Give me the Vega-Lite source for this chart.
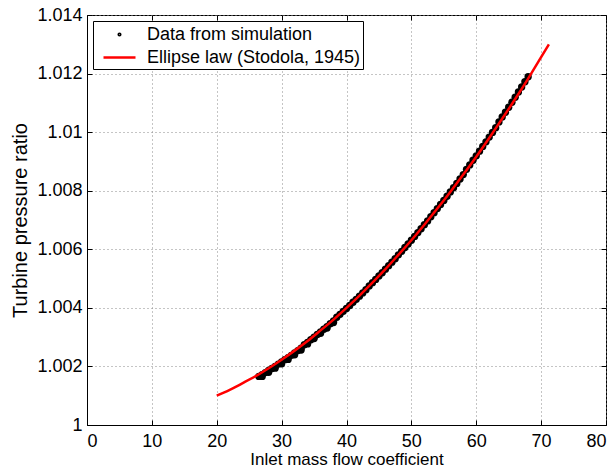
{
  "$schema": "https://vega.github.io/schema/vega-lite/v6.json",
  "width": 519,
  "height": 410,
  "autosize": {"type": "none"},
  "padding": {"left": 87, "top": 15, "right": 10, "bottom": 43},
  "background": "white",
  "config": {
    "view": {"stroke": "black", "strokeWidth": 1},
    "font": "Liberation Sans",
    "axis": {
      "labelFont": "Liberation Sans",
      "titleFont": "Liberation Sans",
      "labelColor": "black",
      "titleColor": "black",
      "titleFontWeight": "normal",
      "domainColor": "black",
      "tickColor": "black",
      "gridColor": "#8a8a8a",
      "gridDash": [1, 3],
      "gridOpacity": 1
    }
  },
  "datasets": {
    "sim": [
      {"x": 26.5, "y": 1.00166}, {"x": 27, "y": 1.00172}, {"x": 27.5, "y": 1.00179}, {"x": 28, "y": 1.00186},
      {"x": 28.5, "y": 1.00193}, {"x": 29, "y": 1.002}, {"x": 29.5, "y": 1.00208}, {"x": 30, "y": 1.00215},
      {"x": 30.5, "y": 1.00223}, {"x": 31, "y": 1.0023}, {"x": 31.5, "y": 1.00238}, {"x": 32, "y": 1.00246},
      {"x": 32.5, "y": 1.00254}, {"x": 33, "y": 1.00262}, {"x": 33.5, "y": 1.00274}, {"x": 34, "y": 1.00282},
      {"x": 34.5, "y": 1.00291}, {"x": 35, "y": 1.003}, {"x": 35.5, "y": 1.00309}, {"x": 36, "y": 1.00318},
      {"x": 36.5, "y": 1.00327}, {"x": 37, "y": 1.00336}, {"x": 37.5, "y": 1.00346}, {"x": 38, "y": 1.00355},
      {"x": 38.5, "y": 1.00368}, {"x": 39, "y": 1.00378}, {"x": 39.5, "y": 1.00388}, {"x": 40, "y": 1.00398},
      {"x": 40.5, "y": 1.00408}, {"x": 41, "y": 1.00419}, {"x": 41.5, "y": 1.00429}, {"x": 42, "y": 1.0044},
      {"x": 42.5, "y": 1.00451}, {"x": 43, "y": 1.00462}, {"x": 43.5, "y": 1.00475}, {"x": 44, "y": 1.00486},
      {"x": 44.5, "y": 1.00497}, {"x": 45, "y": 1.00509}, {"x": 45.5, "y": 1.0052}, {"x": 46, "y": 1.00532},
      {"x": 46.5, "y": 1.00544}, {"x": 47, "y": 1.00556}, {"x": 47.5, "y": 1.00568}, {"x": 48, "y": 1.00581},
      {"x": 48.5, "y": 1.00593}, {"x": 49, "y": 1.00606}, {"x": 49.5, "y": 1.00618}, {"x": 50, "y": 1.00631},
      {"x": 50.5, "y": 1.00644}, {"x": 51, "y": 1.00657}, {"x": 51.5, "y": 1.0067}, {"x": 52, "y": 1.00684},
      {"x": 52.5, "y": 1.00697}, {"x": 53, "y": 1.00711}, {"x": 53.5, "y": 1.00725}, {"x": 54, "y": 1.00739},
      {"x": 54.5, "y": 1.00753}, {"x": 55, "y": 1.00767}, {"x": 55.5, "y": 1.00781}, {"x": 56, "y": 1.00796},
      {"x": 56.5, "y": 1.0081}, {"x": 57, "y": 1.00825}, {"x": 57.5, "y": 1.0084}, {"x": 58, "y": 1.00855},
      {"x": 58.5, "y": 1.00873}, {"x": 59, "y": 1.00888}, {"x": 59.5, "y": 1.00904}, {"x": 60, "y": 1.00919},
      {"x": 60.5, "y": 1.00935}, {"x": 61, "y": 1.00951}, {"x": 61.5, "y": 1.00967}, {"x": 62, "y": 1.00983},
      {"x": 62.5, "y": 1.00999}, {"x": 63, "y": 1.01015}, {"x": 63.5, "y": 1.01035}, {"x": 64, "y": 1.01052},
      {"x": 64.5, "y": 1.01068}, {"x": 65, "y": 1.01085}, {"x": 65.5, "y": 1.01102}, {"x": 66, "y": 1.01119},
      {"x": 66.5, "y": 1.01137}, {"x": 67, "y": 1.01154}, {"x": 67.5, "y": 1.01172}, {"x": 68, "y": 1.01189},
      {"x": 27, "y": 1.00166}, {"x": 28, "y": 1.0018}, {"x": 29, "y": 1.00194}, {"x": 30, "y": 1.00209},
      {"x": 31, "y": 1.00224}, {"x": 32, "y": 1.0024}, {"x": 33, "y": 1.00256}, {"x": 34, "y": 1.00277},
      {"x": 35, "y": 1.00295}, {"x": 36, "y": 1.00313}, {"x": 37, "y": 1.00331}, {"x": 38, "y": 1.0035}
    ],
    "law": [
      {"x": 20, "y": 1.001}, {"x": 22, "y": 1.0012}, {"x": 24, "y": 1.00143}, {"x": 26, "y": 1.00167},
      {"x": 28, "y": 1.00194}, {"x": 30, "y": 1.00223}, {"x": 32, "y": 1.00254}, {"x": 34, "y": 1.00287},
      {"x": 36, "y": 1.00323}, {"x": 38, "y": 1.0036}, {"x": 40, "y": 1.004}, {"x": 42, "y": 1.00442},
      {"x": 44, "y": 1.00486}, {"x": 46, "y": 1.00532}, {"x": 48, "y": 1.00581}, {"x": 50, "y": 1.00631},
      {"x": 52, "y": 1.00684}, {"x": 54, "y": 1.00739}, {"x": 56, "y": 1.00796}, {"x": 58, "y": 1.00855},
      {"x": 60, "y": 1.00916}, {"x": 62, "y": 1.0098}, {"x": 64, "y": 1.01046}, {"x": 66, "y": 1.01113},
      {"x": 68, "y": 1.01183}, {"x": 70, "y": 1.01256}, {"x": 71.2, "y": 1.013}
    ]
  },
  "layer": [
    {
      "data": {"name": "sim"},
      "mark": {"type": "circle", "size": 54, "opacity": 1, "color": "black"},
      "encoding": {
        "x": {
          "field": "x", "type": "quantitative",
          "scale": {"domain": [0, 80], "nice": false, "zero": false},
          "axis": {
            "orient": "bottom", "values": [0, 10, 20, 30, 40, 50, 60, 70, 80],
            "grid": true, "tickSize": -5, "labelPadding": 12, "labelFontSize": 18,
            "title": "Inlet mass flow coefficient", "titleFontSize": 17, "titlePadding": 1
          }
        },
        "y": {
          "field": "y", "type": "quantitative",
          "scale": {"domain": [1, 1.014], "nice": false, "zero": false},
          "axis": {
            "orient": "left",
            "values": [1, 1.002, 1.004, 1.006, 1.008, 1.01, 1.012, 1.014],
            "format": "~g", "grid": true, "tickSize": -5, "labelPadding": 10, "labelFontSize": 18,
            "title": "Turbine pressure ratio", "titleFontSize": 20, "titlePadding": 6
          }
        }
      }
    },
    {
      "data": {"name": "law"},
      "mark": {"type": "line", "strokeWidth": 2.5, "interpolate": "monotone", "color": "#ff0000"},
      "encoding": {
        "x": {"field": "x", "type": "quantitative", "axis": null},
        "y": {"field": "y", "type": "quantitative", "axis": null}
      }
    },
    {
      "data": {"name": "law"},
      "mark": {"type": "point", "filled": false, "strokeWidth": 2.5, "opacity": 0},
      "encoding": {
        "x": {
          "field": "x", "type": "quantitative",
          "axis": {"orient": "top", "values": [0, 10, 20, 30, 40, 50, 60, 70, 80], "labels": false, "grid": false, "domain": false, "tickSize": -5, "title": null}
        },
        "y": {
          "field": "y", "type": "quantitative",
          "axis": {"orient": "right", "values": [1, 1.002, 1.004, 1.006, 1.008, 1.01, 1.012, 1.014], "labels": false, "grid": false, "domain": false, "tickSize": -5, "title": null}
        },
        "color": {
          "datum": "Data from simulation",
          "scale": {
            "domain": ["Data from simulation", "Ellipse law (Stodola, 1945)"],
            "range": ["black", "#ff0000"]
          },
          "legend": {
            "title": null,
            "orient": "top-left",
            "offset": 6,
            "padding": 2,
            "strokeColor": "black",
            "fillColor": "white",
            "labelFont": "Liberation Sans",
            "labelFontSize": 18,
            "labelColor": "black",
            "labelLimit": 0,
            "labelOffset": 16,
            "symbolOffset": 13,
            "symbolSize": 400,
            "symbolOpacity": 1,
            "symbolStrokeWidth": 2.5,
            "rowPadding": 2
          }
        },
        "shape": {
          "datum": "Data from simulation",
          "scale": {
            "domain": ["Data from simulation", "Ellipse law (Stodola, 1945)"],
            "range": ["M-0.08,0A0.08,0.08,0,1,0,0.08,0A0.08,0.08,0,1,0,-0.08,0Z", "M-1.6,0H1.6"]
          },
          "legend": {
            "title": null,
            "orient": "top-left",
            "offset": 6,
            "padding": 2,
            "strokeColor": "black",
            "fillColor": "white",
            "labelFont": "Liberation Sans",
            "labelFontSize": 18,
            "labelColor": "black",
            "labelLimit": 0,
            "labelOffset": 16,
            "symbolOffset": 13,
            "symbolSize": 400,
            "symbolOpacity": 1,
            "symbolStrokeWidth": 2.5,
            "rowPadding": 2
          }
        }
      }
    }
  ],
  "resolve": {"axis": {"x": "independent", "y": "independent"}}
}
